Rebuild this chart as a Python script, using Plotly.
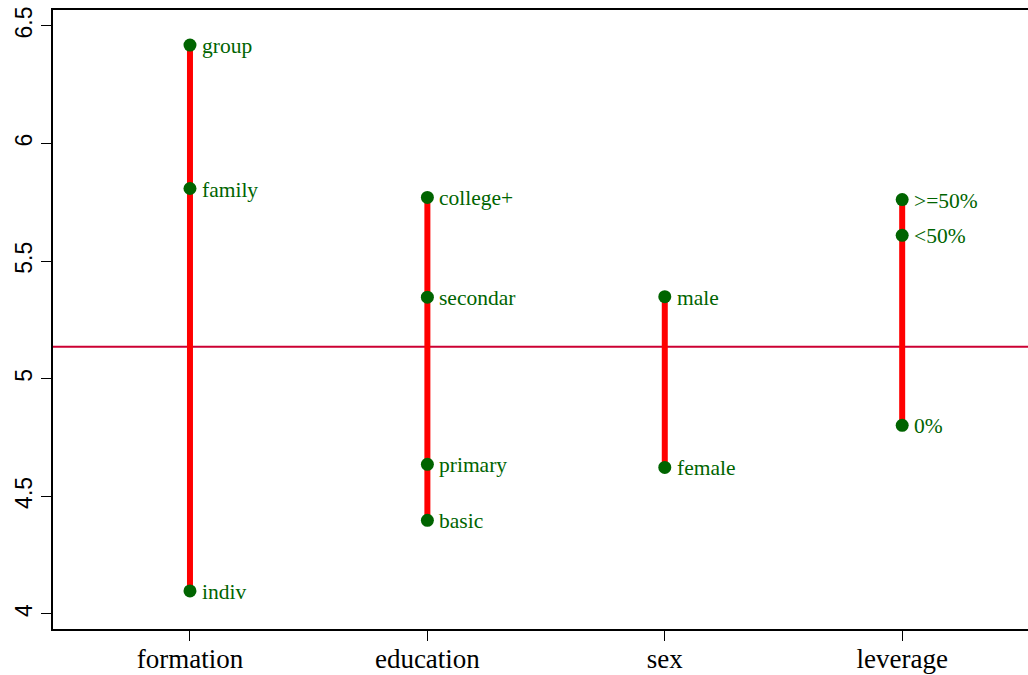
import plotly.graph_objects as go

factors = ["formation", "education", "sex", "leverage"]
levels = {
    "formation": ["group", "family", "indiv"],
    "education": ["college+", "secondar", "primary", "basic"],
    "sex": ["male", "female"],
    "leverage": [">=50%", "<50%", "0%"],
}
means = {
    "formation": [6.419, 5.809, 4.098],
    "education": [5.771, 5.347, 4.636, 4.398],
    "sex": [5.349, 4.623],
    "leverage": [5.762, 5.610, 4.802],
}
grand_mean = 5.136
y_ticks = [4, 4.5, 5, 5.5, 6, 6.5]

fig = go.Figure()

# grand mean line
fig.add_shape(type="line", xref="paper", yref="y", x0=0, x1=1, y0=grand_mean, y1=grand_mean,
              line=dict(color="#cc0033", width=2), layer="below")

for i, f in enumerate(factors, start=1):
    vals = means[f]
    fig.add_trace(go.Scatter(x=[i, i], y=[min(vals), max(vals)], mode="lines",
                             line=dict(color="#ff0000", width=6), hoverinfo="skip", showlegend=False))
for i, f in enumerate(factors, start=1):
    vals = means[f]
    fig.add_trace(go.Scatter(x=[i] * len(vals), y=vals, mode="markers",
                             marker=dict(color="#006400", size=13), showlegend=False))
    for lab, v in zip(levels[f], vals):
        fig.add_annotation(x=i, y=v, text=lab, showarrow=False, xanchor="left", yanchor="middle",
                           xshift=10, yshift=-1,
                           font=dict(family="Liberation Serif", size=21.5, color="#006400"))

fig.update_layout(
    width=1028, height=675,
    margin=dict(l=53, r=0, t=10, b=46),
    plot_bgcolor="white", paper_bgcolor="white",
    xaxis=dict(range=[0.423, 4.53], tickvals=[1, 2, 3, 4], ticktext=factors, automargin=False,
               showgrid=False, zeroline=False, showline=True, linecolor="black", linewidth=1.5,
               mirror=True, ticks="outside", ticklen=10, tickcolor="black", ticklabelstandoff=-5,
               tickfont=dict(family="Liberation Serif", size=27, color="black")),
    yaxis=dict(range=[3.936, 6.568], tickvals=y_ticks, ticktext=["4", "4.5", "5", "5.5", "6", "6.5"],
               automargin=False,
               showgrid=False, zeroline=False, showline=True, linecolor="black", linewidth=1.5,
               ticks="outside", ticklen=10, tickcolor="black", tickangle=-90,
               tickfont=dict(family="Liberation Sans", size=23, color="black")),
)

fig.write_html("out.html", config={"displayModeBar": False},
               post_script="document.body.style.margin='0';document.body.style.overflow='hidden';")
